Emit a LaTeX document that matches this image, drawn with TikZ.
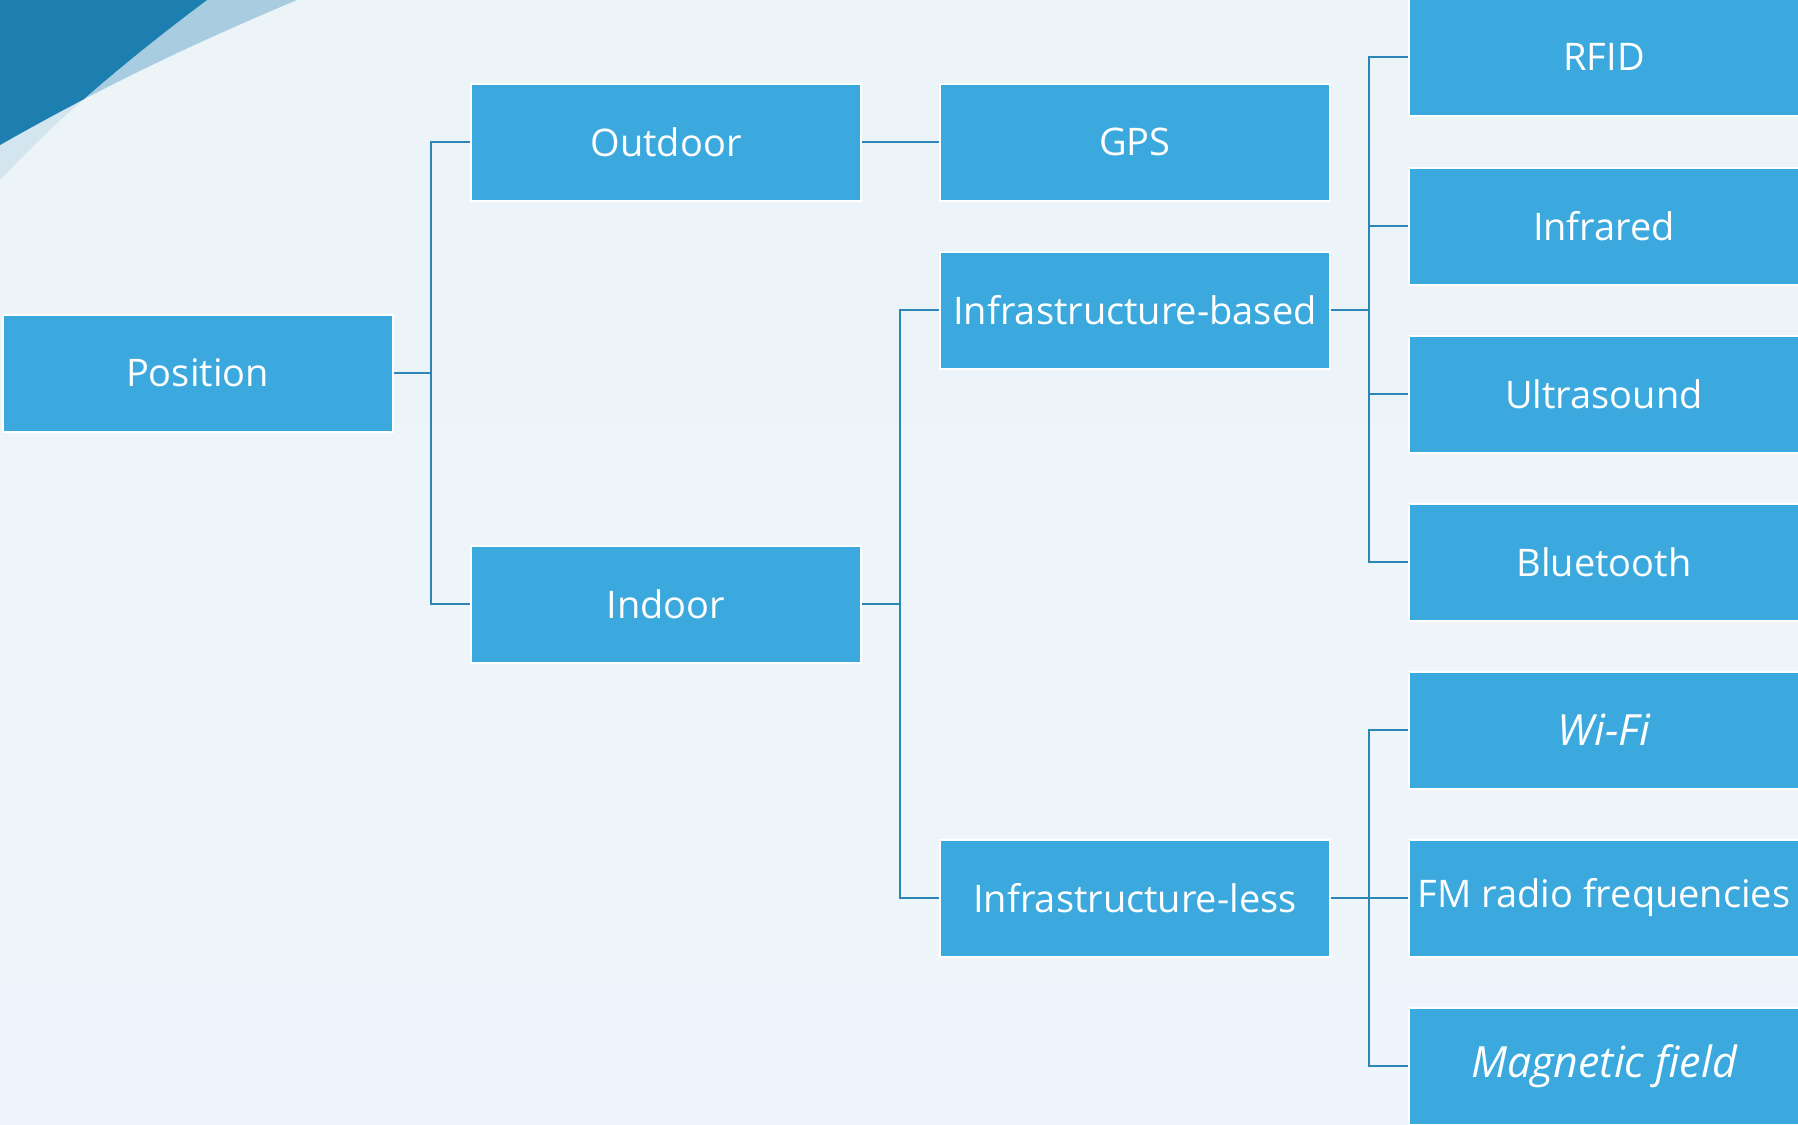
\documentclass[tikz,border=0pt]{standalone}
\usepackage{fontspec}
\setmainfont{Open Sans}
\definecolor{bgtop}{RGB}{236,244,248}
\definecolor{bgbot}{RGB}{238,245,252}
\definecolor{darkb}{RGB}{28,127,176}
\definecolor{lightb}{RGB}{168,205,225}
\definecolor{paleb}{RGB}{211,229,239}
\definecolor{boxblue}{RGB}{59,169,221}
\definecolor{linecol}{RGB}{44,134,184}
\begin{document}
\begin{tikzpicture}[x=0.5pt,y=-0.5pt,
  box/.style={draw=white, line width=1pt, fill=boxblue, text=white,
    minimum width=195pt, minimum height=58.5pt, inner sep=0pt,
    font=\fontsize{19}{21}\selectfont},
  itbox/.style={box, font=\fontsize{21.5}{23}\selectfont\itshape},
  conn/.style={draw=linecol, line width=1.2pt}]
\useasboundingbox (0,0) rectangle (1798,1124);
\clip (0,0) rectangle (1798,1124);
\shade[top color=bgtop, bottom color=bgbot] (0,0) rectangle (1798,1124);
% corner decoration
\fill[paleb] (0,0) -- (207,0) .. controls (140,50) and (60,115) .. (0,180) -- cycle;
\fill[lightb] (0,0) -- (297,0) .. controls (190,45) and (100,88) .. (0,145) -- cycle;
\begin{scope}
  \clip (0,0) -- (207,0) .. controls (140,50) and (60,115) .. (0,180) -- cycle;
  \fill[darkb] (0,0) -- (297,0) .. controls (190,45) and (100,88) .. (0,145) -- cycle;
\end{scope}
% nodes
\node[box] (pos) at (197.5,373) {Position};
\node[box] (out) at (666,142) {Outdoor};
\node[box] (ind) at (666,604) {Indoor};
\node[box] (gps) at (1135,142) {GPS};
\node[box] (ib)  at (1135,310) {Infrastructure-based};
\node[box] (il)  at (1135,898) {Infrastructure-less};
\node[box] (rfid) at (1604,57) {RFID};
\node[box] (ir)  at (1604,226) {Infrared};
\node[box] (us)  at (1604,394) {Ultrasound};
\node[box] (bt)  at (1604,562) {Bluetooth};
\node[itbox] (wifi) at (1604,730) {Wi-Fi};
\node[box] (fm)  at (1604,898) {FM radio frequencies};
\node[itbox] (mag) at (1604,1066) {Magnetic field};
% bracket points
\coordinate (b1) at (431,373);
\coordinate (b2) at (900,604);
\coordinate (b3) at (1369,310);
\coordinate (b4) at (1369,898);
% connectors
\draw[conn] (pos.east) -- (b1);
\draw[conn] (b1) |- (out.west);
\draw[conn] (b1) |- (ind.west);
\draw[conn] (out.east) -- (gps.west);
\draw[conn] (ind.east) -- (b2);
\draw[conn] (b2) |- (ib.west);
\draw[conn] (b2) |- (il.west);
\draw[conn] (ib.east) -- (b3);
\draw[conn] (b3) |- (rfid.west);
\draw[conn] (b3) |- (ir.west);
\draw[conn] (b3) |- (us.west);
\draw[conn] (b3) |- (bt.west);
\draw[conn] (il.east) -- (b4);
\draw[conn] (b4) |- (wifi.west);
\draw[conn] (b4) |- (fm.west);
\draw[conn] (b4) |- (mag.west);
\end{tikzpicture}
\end{document}
